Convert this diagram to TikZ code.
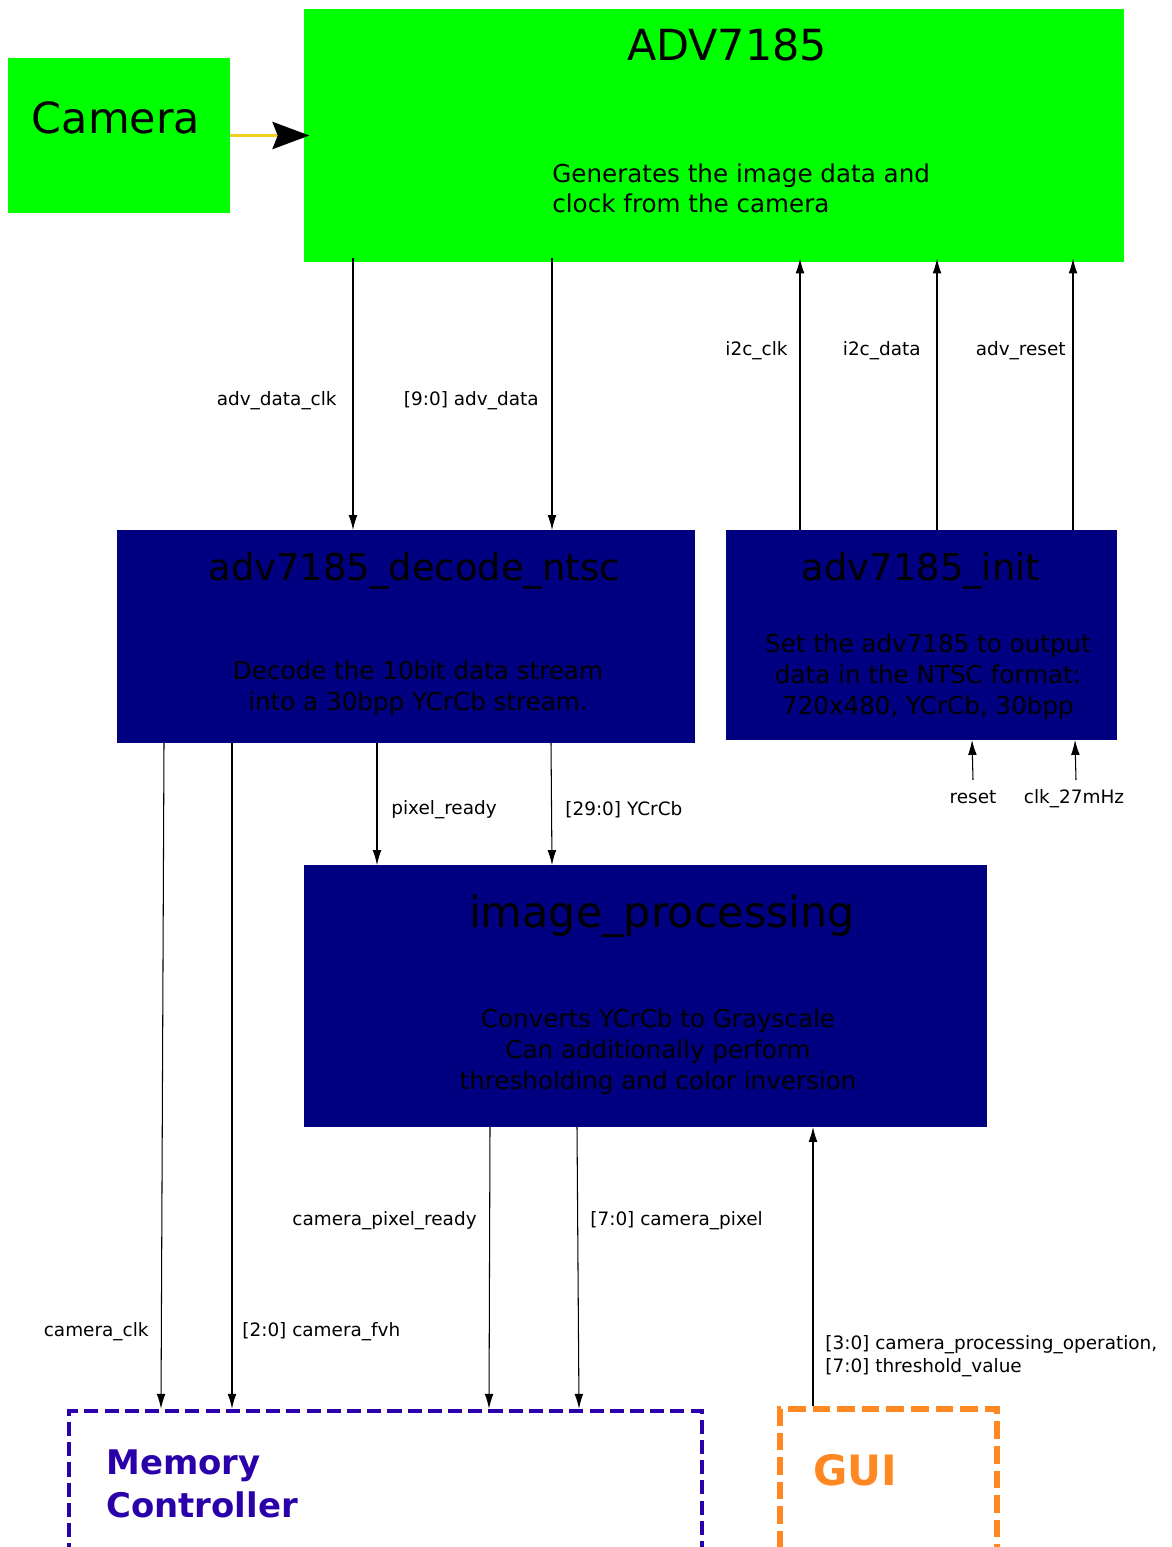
\documentclass[tikz,border=0pt]{standalone}
\usepackage{fontspec}
\setmainfont{DejaVu Sans}
\usetikzlibrary{arrows.meta}
\definecolor{advgreen}{RGB}{0,255,0}
\definecolor{modnavy}{RGB}{0,0,128}
\definecolor{memviolet}{RGB}{42,0,170}
\definecolor{guiorange}{RGB}{255,136,34}
\definecolor{camyellow}{RGB}{238,208,32}

\begin{document}
\begin{tikzpicture}[x=0.02cm, y=-0.02cm,
  block/.style={fill=#1, inner sep=0pt, outer sep=0pt},
  bigtitle/.style={inner sep=0pt, anchor=base, font=\fontsize{24.4}{29}\selectfont},
  midtitle/.style={inner sep=0pt, anchor=base, font=\fontsize{21}{25}\selectfont},
  desc/.style={inner sep=0pt, anchor=base, align=center, font=\fontsize{14}{17.4}\selectfont},
  sig/.style={-{Latex[length=8.5pt,width=5pt]}, line width=0.6pt},
  lbl/.style={inner sep=0pt, font=\fontsize{10.5}{13}\selectfont}]
\clip (0,0) rectangle (1172,1547);
% Camera and ADV7185 chip
\node[block=advgreen, minimum width=4.44cm, minimum height=3.10cm] (cam) at (119,135.5) {};
\node[bigtitle] (camT) at (116,134) {Camera};
\node[block=advgreen, minimum width=16.4cm, minimum height=5.06cm] (adv) at (714,135.5) {};
\node[bigtitle] (advT) at (727,61) {ADV7185};
\node[desc, anchor=base west, align=left] (advD) at (552,213) {Generates the image data and\\clock from the camera};
\draw[camyellow, line width=1.6pt, -{Stealth[length=21pt,width=15.5pt,inset=3pt,black]}, shorten >=-3pt] (cam) -- (adv);
% FPGA modules
\node[block=modnavy, minimum width=11.56cm, minimum height=4.26cm] (dec) at (406,636.5) {};
\node[midtitle] (decT) at (414,580) {adv7185\_decode\_ntsc};
\node[desc] (decD) at (418,710) {Decode the 10bit data stream\\into a 30bpp YCrCb stream.};
\node[block=modnavy, minimum width=7.82cm, minimum height=4.20cm] (init) at (921.5,635) {};
\node[midtitle] (initT) at (921,580) {adv7185\_init};
\node[desc] (initD) at (928,714) {Set the adv7185 to output\\data in the NTSC format:\\720x480, YCrCb, 30bpp};
\node[block=modnavy, minimum width=13.66cm, minimum height=5.24cm] (imgp) at (645.5,996) {};
\node[bigtitle] (imgpT) at (662,927) {image\_processing};
\node[desc] (imgpD) at (658,1089) {Converts YCrCb to Grayscale\\Can additionally perform\\thresholding and color inversion};
% Memory controller and GUI
\node[draw=memviolet, line width=2.6pt, dash pattern=on 8pt off 3.5pt, minimum width=12.66cm, minimum height=3.56cm, inner sep=0pt] (mem) at (385.5,1500) {};
\node[anchor=base west, align=left, inner sep=0pt, text=memviolet, font=\bfseries\fontsize{19.3}{24.4}\selectfont] (memT) at (106,1517) {Memory\\Controller};
\node[draw=guiorange, line width=3pt, dash pattern=on 10pt off 4pt, minimum width=4.34cm, minimum height=3.64cm, inner sep=0pt] (gui) at (888.5,1500) {};
\node[anchor=base west, inner sep=0pt, text=guiorange, font=\bfseries\fontsize{23.8}{28}\selectfont] (guiT) at (813,1485) {GUI};
% ADV7185 -> decoder
\draw[sig] ([yshift=2pt]adv.south -| 353,0) -- (dec.north -| 353,0);
\draw[sig] ([yshift=2pt]adv.south -| 552,0) -- (dec.north -| 552,0);
\node[lbl, anchor=base east] (lAdvClk) at (337,405) {adv\_data\_clk};
\node[lbl, anchor=base east] (lAdvData) at (539,405) {[9:0] adv\_data};
% init -> ADV7185
\foreach \x/\name/\txt/\lx in {800/lI2cClk/i2c\_clk/788, 937/lI2cData/i2c\_data/921, 1073/lAdvRst/adv\_reset/1066} {
  \draw[sig] (init.north -| \x,0) -- ([yshift=2pt]adv.south -| \x,0);
  \node[lbl, anchor=base east] (\name) at (\lx,356) {\txt};
}
% init inputs
\coordinate (rstIn) at (973,780);
\coordinate (clkIn) at (1076,780);
\draw[sig] (rstIn) -- (init.south -| 972,0);
\draw[sig] (clkIn) -- (init.south -| 1075,0);
\node[lbl, anchor=base] (lRst) at (973,803) {reset};
\node[lbl, anchor=base] (lClk) at (1074,803) {clk\_27mHz};
% decoder -> image_processing
\draw[sig] (dec.south -| 377,0) -- (imgp.north -| 377,0);
\draw[sig] (dec.south -| 551,0) -- (imgp.north -| 552,0);
\node[lbl, anchor=base west] (lPixRdy) at (391,814) {pixel\_ready};
\node[lbl, anchor=base west] (lYCrCb) at (565,815) {[29:0] YCrCb};
% decoder -> memory controller
\draw[sig] (dec.south -| 164,0) -- (mem.north -| 161,0);
\draw[sig] (dec.south -| 232,0) -- (mem.north -| 232,0);
\node[lbl, anchor=base east] (lCamClk) at (149,1336) {camera\_clk};
\node[lbl, anchor=base west] (lCamFvh) at (242,1336) {[2:0] camera\_fvh};
% image_processing -> memory controller
\draw[sig] (imgp.south -| 490,0) -- (mem.north -| 489,0);
\draw[sig] (imgp.south -| 577,0) -- (mem.north -| 579,0);
\node[lbl, anchor=base east] (lCamRdy) at (477,1225) {camera\_pixel\_ready};
\node[lbl, anchor=base west] (lCamPix) at (590,1225) {[7:0] camera\_pixel};
% GUI -> image_processing
\draw[sig] (gui.north -| 813,0) -- (imgp.south -| 813,0);
\node[lbl, anchor=base west, align=left] (lGui) at (825,1372) {[3:0] camera\_processing\_operation,\\{}[7:0] threshold\_value};
\end{tikzpicture}
\end{document}
